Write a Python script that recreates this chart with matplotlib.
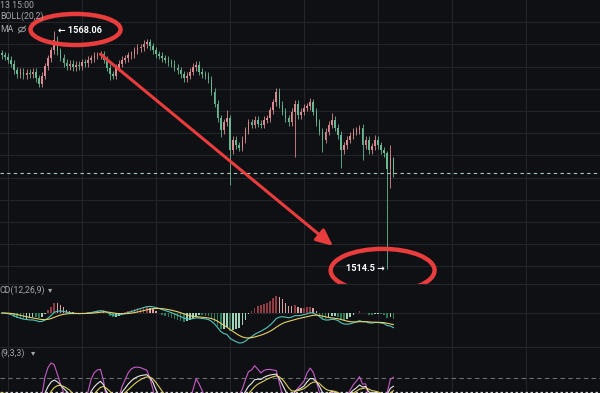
import numpy as np
import pandas as pd
import matplotlib
matplotlib.use("Agg")
import matplotlib.pyplot as plt
from matplotlib.patches import Ellipse
from matplotlib.lines import Line2D

# 15m candles, close prices
closes = [
    1562.6, 1562.2, 1561.5, 1560.6, 1559.2, 1558.3, 1558.8, 1558.1, 1558.6, 1558.3,
    1558.8, 1557.4, 1556.1, 1557.9, 1560.1, 1561.9, 1563.7, 1566.0, 1563.5, 1562.0,
    1560.8, 1560.1, 1560.6, 1559.9, 1560.4, 1560.1,
    1561.0, 1560.8, 1561.5, 1561.9, 1562.4, 1562.6, 1562.8, 1561.5, 1559.7, 1558.3,
    1557.9, 1559.7, 1560.6, 1561.5, 1561.9, 1562.6, 1562.8, 1563.7, 1564.2, 1564.4,
    1565.1, 1565.5, 1564.6, 1563.7, 1562.8, 1562.4, 1561.9, 1561.5, 1561.0, 1560.6,
    1559.7, 1559.2, 1558.3, 1557.4, 1557.9, 1558.8, 1559.9, 1560.4, 1558.8, 1558.3,
    1557.9, 1557.0, 1554.3, 1551.6, 1548.4, 1545.7, 1547.5, 1548.4, 1541.2, 1543.5,
    1542.3, 1541.7, 1543.5, 1545.7, 1547.5, 1546.9, 1548.0, 1547.1,
    1546.9, 1548.0, 1548.4, 1550.2, 1552.0, 1554.3, 1551.4, 1549.8, 1548.4, 1547.5,
    1549.8, 1551.6, 1549.1, 1549.8, 1550.7, 1551.1, 1552.0, 1549.8, 1547.5, 1545.3,
    1543.5, 1545.3, 1546.9, 1548.0, 1546.2, 1544.6, 1541.2, 1542.3, 1543.5, 1544.4,
    1545.3, 1545.7, 1546.2, 1542.3, 1543.5, 1541.2,
    1542.1, 1543.5, 1542.3, 1541.2, 1540.5, 1537.0, 1539.5, 1536.0,
]
first_open = 1563.0
# candles with visible long wicks
peak_highs = {17: 1568.06, 18: 1567.0, 47: 1566.2, 73: 1550.2, 89: 1555.2, 100: 1552.9,
              107: 1549.6, 116: 1546.9, 121: 1544.6, 125: 1541.0, 126: 1542.3, 127: 1539.6}
peak_lows = {12: 1555.4, 35: 1557.0, 59: 1556.6, 71: 1544.1, 74: 1533.3, 95: 1539.6,
             104: 1540.7, 110: 1537.2, 117: 1539.0, 125: 1514.5, 126: 1532.7, 127: 1535.2}
WICK = 0.8

opens = [first_open] + closes[:-1]
highs = [peak_highs.get(i, max(o, c) + WICK) for i, (o, c) in enumerate(zip(opens, closes))]
lows = [peak_lows.get(i, min(o, c) - WICK) for i, (o, c) in enumerate(zip(opens, closes))]
x = np.arange(len(closes))

BG = "#0f1013"
GRID = "#24262b"
UP = "#d98a8e"
DOWN = "#68b892"
RED = "#e93c3c"
LABEL = "#a5a7ab"
W, H = 600, 393
FONT = ["Roboto", "DejaVu Sans"]

fig = plt.figure(figsize=(6, 3.93), dpi=100, facecolor=BG)


def box(top, bottom):
    return [0, 1 - bottom / H, 1, (bottom - top) / H]


ax = fig.add_axes(box(0, 284))
ax_macd = fig.add_axes(box(284, 347))
ax_kdj = fig.add_axes(box(347, 424.7))

xlim = (-0.595, -0.595 + W / 3.0833)
for a in (ax, ax_macd, ax_kdj):
    a.set_facecolor(BG)
    a.set_xlim(*xlim)
    a.set_xticks([2, 26, 50, 74, 98, 122, 146, 170])
    a.tick_params(length=0, labelleft=False, labelbottom=False)
    for s in a.spines.values():
        s.set_visible(False)
    a.grid(True, axis="x", color=GRID, lw=0.7)
    a.set_axisbelow(True)

# ---- price panel
ax.set_ylim(1511.04, 1575.0)
ax.set_yticks(np.arange(1515, 1571, 5))
ax.grid(True, axis="y", color=GRID, lw=0.7)
cols = [UP if c >= o else DOWN for o, c in zip(opens, closes)]
ax.vlines(x, lows, highs, colors=cols, lw=0.6, zorder=2)
body_h = [max(abs(c - o), 0.12) for o, c in zip(opens, closes)]
body_b = [min(o, c) for o, c in zip(opens, closes)]
ax.bar(x, body_h, bottom=body_b, width=0.5, color=cols, lw=0, zorder=3)
ax.axhline(closes[-1], color="#a9c9bd", lw=0.8, ls=(0, (3, 3)), zorder=2)

hi_idx = int(np.argmax(highs))
lo_idx = int(np.argmin(lows))
ax.text(hi_idx + 1.2, highs[hi_idx], "\u2190 " + f"{highs[hi_idx]:.2f}", color="white",
        fontsize=6.6, family=FONT, fontweight="bold", va="center", ha="left", zorder=6)
ax.text(lo_idx - 0.7, lows[lo_idx], f"{lows[lo_idx]:g} \u2192", color="white",
        fontsize=6.6, family=FONT, fontweight="bold", va="center", ha="right", zorder=6,
        clip_on=False)
ax.add_patch(Ellipse((hi_idx + 6.9, highs[hi_idx] + 0.3), 29.2, 7.0, fill=False,
                     ec=RED, lw=3.2, zorder=7, clip_on=False))
ax.add_patch(Ellipse((lo_idx - 1.5, lows[lo_idx] - 0.4), 33.7, 9.7, fill=False,
                     ec=RED, lw=3.2, zorder=7, clip_on=False))
ax.annotate("", xy=(lo_idx - 17.6, lows[lo_idx] + 5.1), xytext=(32, closes[32]),
            arrowprops=dict(arrowstyle="-|>,head_length=1.0,head_width=0.45",
                            color=RED, lw=2.2, shrinkA=0, shrinkB=0),
            annotation_clip=False, zorder=7)

# ---- MACD(12,26,9)
s = pd.Series(closes)
dif = s.ewm(span=12, adjust=False).mean() - s.ewm(span=26, adjust=False).mean()
dea = dif.ewm(span=9, adjust=False).mean()
hist = 2 * (dif - dea)
prev = hist.shift(1).fillna(0)
hcols = []
for h, p in zip(hist, prev):
    if h >= 0:
        hcols.append("#8e3b42" if h >= p else "#d9a1a4")
    else:
        hcols.append("#2d7a56" if h <= p else "#9fd4b9")
ax_macd.bar(x, hist, width=0.5, color=hcols, lw=0, zorder=2)
ax_macd.plot(x, dif, color="#55c6bc", lw=0.8, zorder=3)
ax_macd.plot(x, dea, color="#e6d06a", lw=0.8, zorder=3)
lo = min(dif.min(), dea.min(), hist.min())
hi = max(dif.max(), dea.max(), hist.max())
k = max(-lo / 30, hi / 27)
ax_macd.set_ylim(-34 * k, 29 * k)
ax_macd.axhline(0, color=GRID, lw=0.7, zorder=1)
ax_macd.spines["top"].set_visible(True)
ax_macd.spines["top"].set_color(GRID)

# ---- KDJ(9,3,3)
low9 = pd.Series(lows).rolling(9, min_periods=1).min()
high9 = pd.Series(highs).rolling(9, min_periods=1).max()
rsv = (s - low9) / (high9 - low9) * 100
K, D = [], []
kp, dp = 50.0, 50.0
for r in rsv:
    kp = 2 / 3 * kp + r / 3
    dp = 2 / 3 * dp + kp / 3
    K.append(kp)
    D.append(dp)
K, D = np.array(K), np.array(D)
J = 3 * K - 2 * D
ax_kdj.set_ylim(-20, 146.4)
ax_kdj.axhline(80, color="#6a6c70", lw=0.8, ls=(0, (4, 3)))
ax_kdj.axhline(50, color="#d0d0d0", lw=0.9, ls=(0, (2, 2)))
ax_kdj.plot(x, J, color="#c65cc8", lw=0.8)
ax_kdj.plot(x, K, color="#e8e8e8", lw=0.8)
ax_kdj.plot(x, D, color="#e3cf5f", lw=0.8)
ax_kdj.spines["top"].set_visible(True)
ax_kdj.spines["top"].set_color(GRID)


# ---- header labels (what is visible at the left edge of the screenshot)
def label(px, py, txt, size=6.3):
    fig.text(px / W, 1 - py / H, txt, color=LABEL, fontsize=size, family=FONT,
             va="center", ha="left")


label(0, 5, "13 15:00")
label(0, 16, "BOLL(20,2)")
label(0, 29.5, "MA")
label(0, 290, "CD(12,26,9)")
label(48, 290, "\u25be", 6)
label(0, 353, "(9,3,3)")
label(31, 353, "\u25be", 6)
# eye-off icon next to MA
fig.add_artist(Ellipse((22 / W, 1 - 29.5 / H), 7 / W, 4.5 / H, fill=False, ec=LABEL,
                       lw=0.6, transform=fig.transFigure))
fig.add_artist(Line2D([18.5 / W, 25.5 / W], [1 - 33 / H, 1 - 26 / H], color=LABEL,
                      lw=0.6, transform=fig.transFigure))

fig.savefig("out.png", dpi=100, facecolor=BG)
